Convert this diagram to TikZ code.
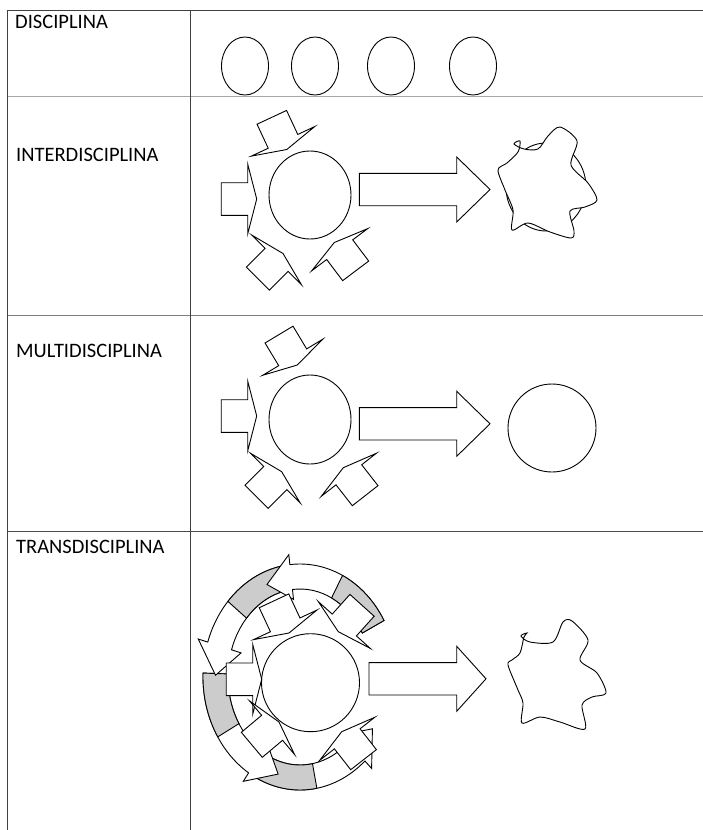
\documentclass[tikz,border=0pt]{standalone}
\usepackage{fontspec}
\setmainfont{Carlito}
\usetikzlibrary{calc}
\tikzstyle{rule} = [draw, line width=1pt]
\tikzstyle{outline} = [draw, fill=white, line width=0.9pt]
\tikzstyle{shade} = [draw, fill=black!20, line width=0.9pt]
\tikzstyle{rowname} = [anchor=base west, inner sep=0pt, font=\fontsize{20.5}{24}\selectfont]

% small block arrow, tip at #1,#2, pointing at angle #3
\newcommand{\smallarrow}[3]{%
  \begin{scope}[shift={(#1,#2)}, rotate=#3]
    \draw[outline] (0,0) -- (-9,35) -- (-9,16.3) -- (-35.5,16.3) -- (-35.5,-16.3)
      -- (-9,-16.3) -- (-9,-35) -- cycle;
  \end{scope}}
% wide block arrow: shaft start, head start, centre line, tip
\newcommand{\bigarrow}[4]{%
  \draw[outline] (#1,#3-16.2) -- (#2,#3-16.2) -- (#2,#3-32.5) -- (#4,#3)
    -- (#2,#3+32.5) -- (#2,#3+16.2) -- (#1,#3+16.2) -- cycle;}
% curved ribbon arrow: grey from #1 to #2, white on to #3, then the head
\newcommand{\ribbon}[3]{%
  \pgfmathsetmacro{\tipang}{#3+17}
  \draw[outline] (#1:97pt and 113pt) arc[start angle=#1, end angle=#3, x radius=97pt, y radius=113pt]
    -- (#3:107pt and 123pt) -- (\tipang:84.5pt and 100.5pt) -- (#3:62pt and 78pt) -- (#3:72pt and 88pt)
    arc[start angle=#3, end angle=#1, x radius=72pt, y radius=88pt] -- cycle;
  \draw[shade] (#1:97pt and 113pt) arc[start angle=#1, end angle=#2, x radius=97pt, y radius=113pt]
    -- (#2:72pt and 88pt) arc[start angle=#2, end angle=#1, x radius=72pt, y radius=88pt] -- cycle;}

\begin{document}
\begin{tikzpicture}[x=1pt, y=-1pt]
  \useasboundingbox (0,0) rectangle (703,830);
  % table
  \draw[rule, black!75] (7.5,10) -- (703,10);
  \draw[rule, black!35] (7.5,96) -- (703,96);
  \draw[rule, black!50] (7.5,315) -- (703,315);
  \draw[rule, black!70] (7.5,531) -- (703,531);
  \draw[rule, black!75] (7.5,10) -- (7.5,830);
  \draw[rule, black!75] (190,10) -- (190,830);
  \node[rowname] (disc) at (15,28.5) {DISCIPLINA};
  \node[rowname] (inter) at (16,161) {INTERDISCIPLINA};
  \node[rowname] (multi) at (16,357.5) {MULTIDISCIPLINA};
  \node[rowname] (trans) at (16,553.5) {TRANSDISCIPLINA};

  % disciplina
  \foreach \cx in {245,315,391,473}
    \draw[outline] (\cx,66) ellipse [x radius=23.5, y radius=29];

  % interdisciplina
  \draw[outline] (310,195) ellipse [x radius=41, y radius=44];
  \smallarrow{256.7}{199}{0}
  \smallarrow{286.8}{149.5}{-65}
  \smallarrow{283}{253.5}{45}
  \smallarrow{334.3}{242.5}{127}
  \bigarrow{359.3}{456.7}{189.5}{490}
  \draw[outline] (546,187) ellipse [x radius=40, y radius=44];
  \draw[outline] plot[smooth cycle] coordinates {(538,149) (548,136) (560,127) (577,141)
    (571,165) (588,183) (597,200) (585,207) (570,211) (574,231) (571,238) (550,232)
    (528,223) (512,230) (513,210) (505,190) (498,170) (507,163) (518,152) (520,141)
    (514,144) (524,149)};

  % multidisciplina
  \draw[outline] (310,419.5) ellipse [x radius=41, y radius=44.5];
  \smallarrow{256.7}{416}{0}
  \smallarrow{297.3}{365}{-59}
  \smallarrow{281.7}{471.7}{45}
  \smallarrow{343.3}{467.7}{128}
  \bigarrow{359.3}{456.7}{423.8}{490}
  \draw[outline] (552,428) circle [radius=44];

  % transdisciplina
  \begin{scope}[shift={(300,677)}]
    \ribbon{240}{280}{312}
    \ribbon{178}{212}{238}
    \ribbon{98}{138}{162}
    \ribbon{30}{64}{96}
  \end{scope}
  \smallarrow{261.7}{679.3}{0}
  \smallarrow{289}{633}{-65}
  \smallarrow{338.3}{631.7}{-132}
  \smallarrow{279}{722}{40}
  \smallarrow{341.7}{731.7}{128}
  \draw[line width=0.9pt] (310.5,682.7) circle [radius=49];
  \bigarrow{369}{456.7}{678.8}{486}
  \draw[outline] plot[smooth cycle] coordinates {(553,642) (563,622) (572,621) (588,640)
    (580,660) (597,673) (606,693) (592,697) (582,705) (585,729) (560,722) (540,717)
    (522,723) (523,703) (518,690) (508,665) (512,660) (520,653) (524,637) (527,633)
    (521,636) (530,642)};
\end{tikzpicture}
\end{document}
